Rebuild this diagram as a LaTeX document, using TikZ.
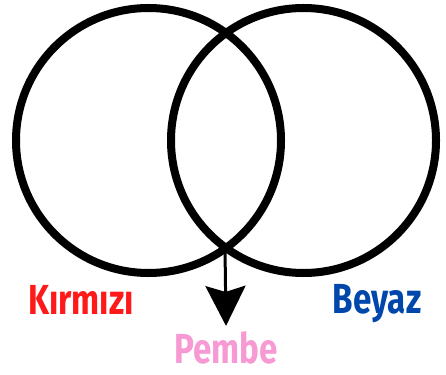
\documentclass[tikz,border=0pt]{standalone}
\usepackage{fontspec}
\newfontfamily\vennfont[FakeStretch=0.79]{Fira Sans}
\usetikzlibrary{arrows.meta}

\definecolor{kirmizirenk}{HTML}{FF1A1A}
\definecolor{beyazrenk}{HTML}{0047AB}
\definecolor{pemberenk}{HTML}{F79AD3}

\tikzset{
    venn/.style={circle, draw, line width=8pt, minimum size=265pt, inner sep=0pt},
    etiket/.style={anchor=base, inner sep=5pt, font=\vennfont\bfseries\fontsize{42}{42}\selectfont},
    ok/.style={line width=3pt, -{Stealth[width=40pt, length=40pt, inset=6pt]}}
}

\begin{document}
\begin{tikzpicture}[x=1pt, y=-1pt]
    \useasboundingbox (0,0) rectangle (446,374);

    \node[venn] (kirmizi) at (148.5,140.5) {};
    \node[venn] (beyaz) at (303.5,140.5) {};
    \coordinate (kesisim) at (225,248);

    \node[etiket, text=kirmizirenk] (kirmiziyazi) at (81,314) {Kırmızı};
    \node[etiket, text=beyazrenk] (beyazyazi) at (377,313) {Beyaz};
    \node[etiket, text=pemberenk] (pembe) at (226,363) {Pembe};

    \draw[ok] (kesisim) -- (pembe.north);

\end{tikzpicture}
\end{document}
